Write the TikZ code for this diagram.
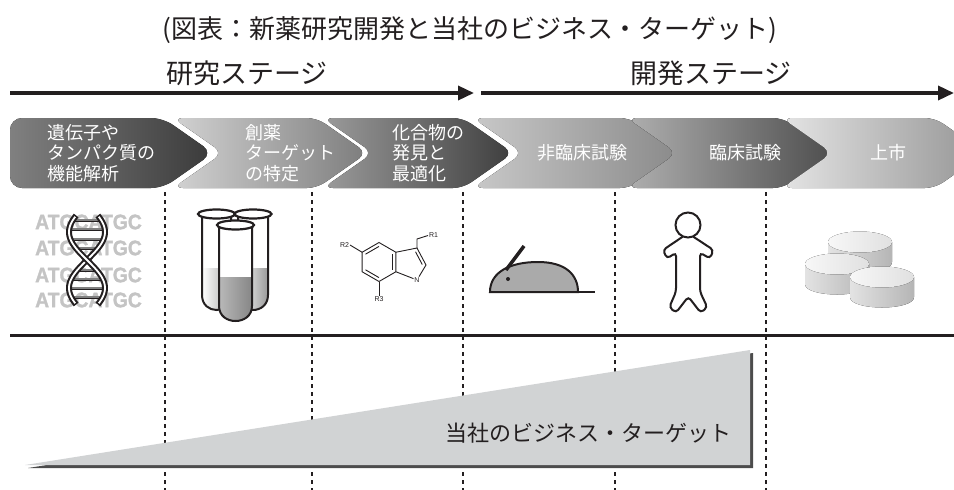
\documentclass[tikz,border=0pt]{standalone}
\usepackage{fontspec}
\usepackage{tikz}
\usetikzlibrary{arrows.meta,calc}
\setmainfont{Noto Sans CJK JP}
\newfontfamily\helvfont{Liberation Sans}
\newfontfamily\helvbold{Liberation Sans Bold}[FakeBold=1.5,FakeStretch=0.92]
\definecolor{inkblack}{RGB}{35,31,32}
\definecolor{targetgray}{RGB}{209,211,212}
\definecolor{seqgray}{RGB}{196,196,196}
\definecolor{mousegray}{RGB}{170,170,170}
% chevron shades, left and right end of each stage
\definecolor{chevAa}{RGB}{128,128,128}\definecolor{chevAb}{RGB}{58,58,58}
\definecolor{chevBa}{RGB}{210,210,210}\definecolor{chevBb}{RGB}{125,125,125}
\definecolor{chevCa}{RGB}{155,155,155}\definecolor{chevCb}{RGB}{62,62,62}
\definecolor{chevDa}{RGB}{200,200,200}\definecolor{chevDb}{RGB}{138,138,138}
\definecolor{chevEa}{RGB}{175,175,175}\definecolor{chevEb}{RGB}{78,78,78}
\definecolor{chevFa}{RGB}{228,228,228}\definecolor{chevFb}{RGB}{148,148,148}

\begin{document}
\begin{tikzpicture}[x=1pt,y=-1pt,
  chevtext/.style={text=white,font=\fontsize{18}{20.5}\selectfont,align=left,inner sep=0pt},
  stagelabel/.style={text=inkblack,font=\fontsize{27}{30}\selectfont,inner sep=0pt},
  divider/.style={inkblack,dash pattern=on 4pt off 4pt,line width=2.5pt},
  bond/.style={line width=0.9pt,inkblack},
  atom/.style={text=inkblack,font=\helvfont\fontsize{7}{7}\selectfont,inner sep=0.8pt},
  seqtext/.style={text=seqgray,font=\helvbold\fontsize{21}{21}\selectfont,inner sep=0pt}]
\useasboundingbox (0,0) rectangle (954,490);
\clip (0,0) rectangle (954,490);

% Title and the two stages
\node[text=inkblack,font=\fontsize{26}{30}\selectfont,inner sep=0pt] (title) at (470,30) {(図表：新薬研究開発と当社のビジネス・ターゲット)};
\node[stagelabel] (research) at (247,73) {研究ステージ};
\node[stagelabel] (develop) at (711,73) {開発ステージ};

\coordinate (rstart) at (10,93);  \coordinate (rend) at (474,93);
\coordinate (dstart) at (481,93); \coordinate (dend) at (954,93);
\draw[inkblack,line width=3.5pt,-{Triangle[length=16pt,width=14pt]}] (rstart) -- (rend);
\draw[inkblack,line width=3.5pt,-{Triangle[length=16pt,width=14pt]}] (dstart) -- (dend);

% Process chevrons
\fill[left color=chevAa,right color=chevAb,rounded corners=12pt]
  (10,118) -- (163,118) -- (213,153) -- (163,188) -- (10,188) -- cycle;
\foreach \l/\t/\ca/\cb in {173/367/chevBa/chevBb, 323/513/chevCa/chevCb,
                           473/680/chevDa/chevDb, 627/833/chevEa/chevEb,
                           782/985/chevFa/chevFb} {
  \fill[left color=\ca,right color=\cb,rounded corners=10pt]
    (\l,118) -- (\t-50,118) -- (\t,153) -- (\t-50,188) -- (\l,188) -- (\l+50,153) -- cycle;
}
\node[chevtext,anchor=west] (genes) at (47,153) {遺伝子や\\タンパク質の\\機能解析};
\node[chevtext,anchor=west] (target) at (245,153) {創薬\\ターゲット\\の特定};
\node[chevtext,anchor=west] (lead) at (392,153) {化合物の\\発見と\\最適化};
\node[chevtext] (preclin) at (582,153) {非臨床試験};
\node[chevtext] (clinic) at (745,153) {臨床試験};
\node[chevtext] (launch) at (888,153) {上市};

% Stage boundaries and the base line
\foreach \x in {165,312,463,615,766}
  \draw[divider] (\x,192) -- (\x,490);
\draw[inkblack,line width=3pt] (10,335) -- (954,335);

% DNA with sequence letters behind
\foreach \y [count=\k] in {222,248,275,300}
  \node[seqtext] (seq\k) at (88.5,\y) {ATGCATGC};
\foreach \yy in {220,229,239,248,270,279,288,297} {
  \pgfmathsetmacro\hw{18*abs(sin((\yy-260)*180/56))}
  \draw[inkblack,line width=3pt] (87-\hw,\yy) -- (87+\hw,\yy);
  \draw[gray,line width=1.1pt] (87-\hw,\yy) -- (87+\hw,\yy);
}
\foreach \s in {-1,1} {
  \draw[inkblack,line width=6pt] plot[domain=-143:143,samples=70,smooth] ({87+\s*18*sin(\x)},{260+\x*56/180});
  \draw[white,line width=1.8pt] plot[domain=-139:139,samples=70,smooth] ({87+\s*18*sin(\x)},{260+\x*56/180});
}

% Test tubes
\foreach \xa/\xb/\xc/\top/\bot/\lev/\la/\lb in {202/231/216.5/214/310/268/white/gray!70,
                                               238/268/253/214/310/268/white/gray!80,
                                               219/252/235.5/225/321/277/gray!55/gray!95} {
  \fill[white] (\xa,\top) -- (\xa,\bot-15) .. controls (\xa,\bot+5) and (\xb,\bot+5) .. (\xb,\bot-15) -- (\xb,\top) -- cycle;
  \fill[left color=\la,right color=\lb] (\xa,\lev) -- (\xa,\bot-15) .. controls (\xa,\bot+5) and (\xb,\bot+5) .. (\xb,\bot-15) -- (\xb,\lev) -- cycle;
  \draw[inkblack,line width=2pt] (\xa,\top) -- (\xa,\bot-15) .. controls (\xa,\bot+5) and (\xb,\bot+5) .. (\xb,\bot-15) -- (\xb,\top);
  \draw[inkblack,line width=2.2pt,fill=white] (\xc,\top) ellipse [x radius=18.5, y radius=4.5];
}

% Indole scaffold
\coordinate (hc) at (379,262);
\foreach \n/\a in {ctop/270,cur/330,clr/30,cbot/90,cll/150,cul/210}
  \coordinate (\n) at ([shift={(\a:19.5)}]hc);
\draw[bond] (ctop) -- (cur) -- (clr) -- (cbot) -- (cll) -- (cul) -- cycle;
\foreach \p/\q in {ctop/cul,cur/clr,cbot/cll}
  \draw[bond] ($(hc)!0.8!(\p)$) -- ($(hc)!0.8!(\q)$);
\coordinate (c3) at (417,248);
\coordinate (c2) at (426,265);
\coordinate (pc) at (411,263);
\node[atom] (n1) at (417,280) {N};
\draw[bond] (cur) -- (c3) -- (c2) -- (n1) -- (clr);
\draw[bond] ($(pc)!0.75!(c3)$) -- ($(pc)!0.75!(c2)$);
\coordinate (ch2) at (417,239);
\node[atom,anchor=west] (r1) at (428,235.5) {R1};
\node[atom,anchor=east] (r2) at (350,245) {R2};
\node[atom,anchor=north] (r3) at (379,296) {R3};
\draw[bond] (c3) -- (ch2) -- (r1.west);
\draw[bond] (cul) -- (r2.east);
\draw[bond] (cbot) -- (r3.north);

% Mouse
\draw[inkblack,line width=2pt,fill=mousegray] (490,292) .. controls (490,272) and (510,262) .. (538,262)
  .. controls (566,262) and (578,275) .. (578,292) -- cycle;
\draw[inkblack,line width=2.5pt] (490,292) -- (595,292);
\draw[inkblack,line width=3.5pt] (506,270) -- (524,246);
\fill[inkblack] (508,279) circle (2);

% Patient
\draw[inkblack,line width=2pt,fill=white,rounded corners=3.5pt]
  (682.7,236.7) -- (663,250) -- (667,258.5) -- (676,252.7) -- (676,291.7) -- (669.3,307.3)
  -- (676,312.7) -- (688.3,296.7) -- (700.7,312.7) -- (707.3,307.3) -- (700,291.7)
  -- (700,252.7) -- (710,258.5) -- (713.5,250) -- (693.3,236.7);
\draw[inkblack,line width=2pt,fill=white] (688,225) circle (12.5);

% Tablets
\foreach \cx/\cy in {860/242, 837/264, 882/277} {
  \fill[left color=gray!22,right color=gray!58] (\cx-32,\cy) -- (\cx-32,\cy+20)
    .. controls (\cx-32,\cy+34) and (\cx+32,\cy+34) .. (\cx+32,\cy+20) -- (\cx+32,\cy) -- cycle;
  \fill[left color=gray!6,right color=gray!24] (\cx,\cy) ellipse [x radius=32, y radius=10.5];
}

% Business target wedge
\fill[black!70] (28,468) -- (753,353) -- (753,468) -- cycle;
\fill[targetgray] (25,465) -- (750,350) -- (750,465) -- cycle;
\node[text=inkblack,font=\fontsize{22}{24}\selectfont,inner sep=0pt] (business) at (588,433) {当社のビジネス・ターゲット};
\end{tikzpicture}
\end{document}
